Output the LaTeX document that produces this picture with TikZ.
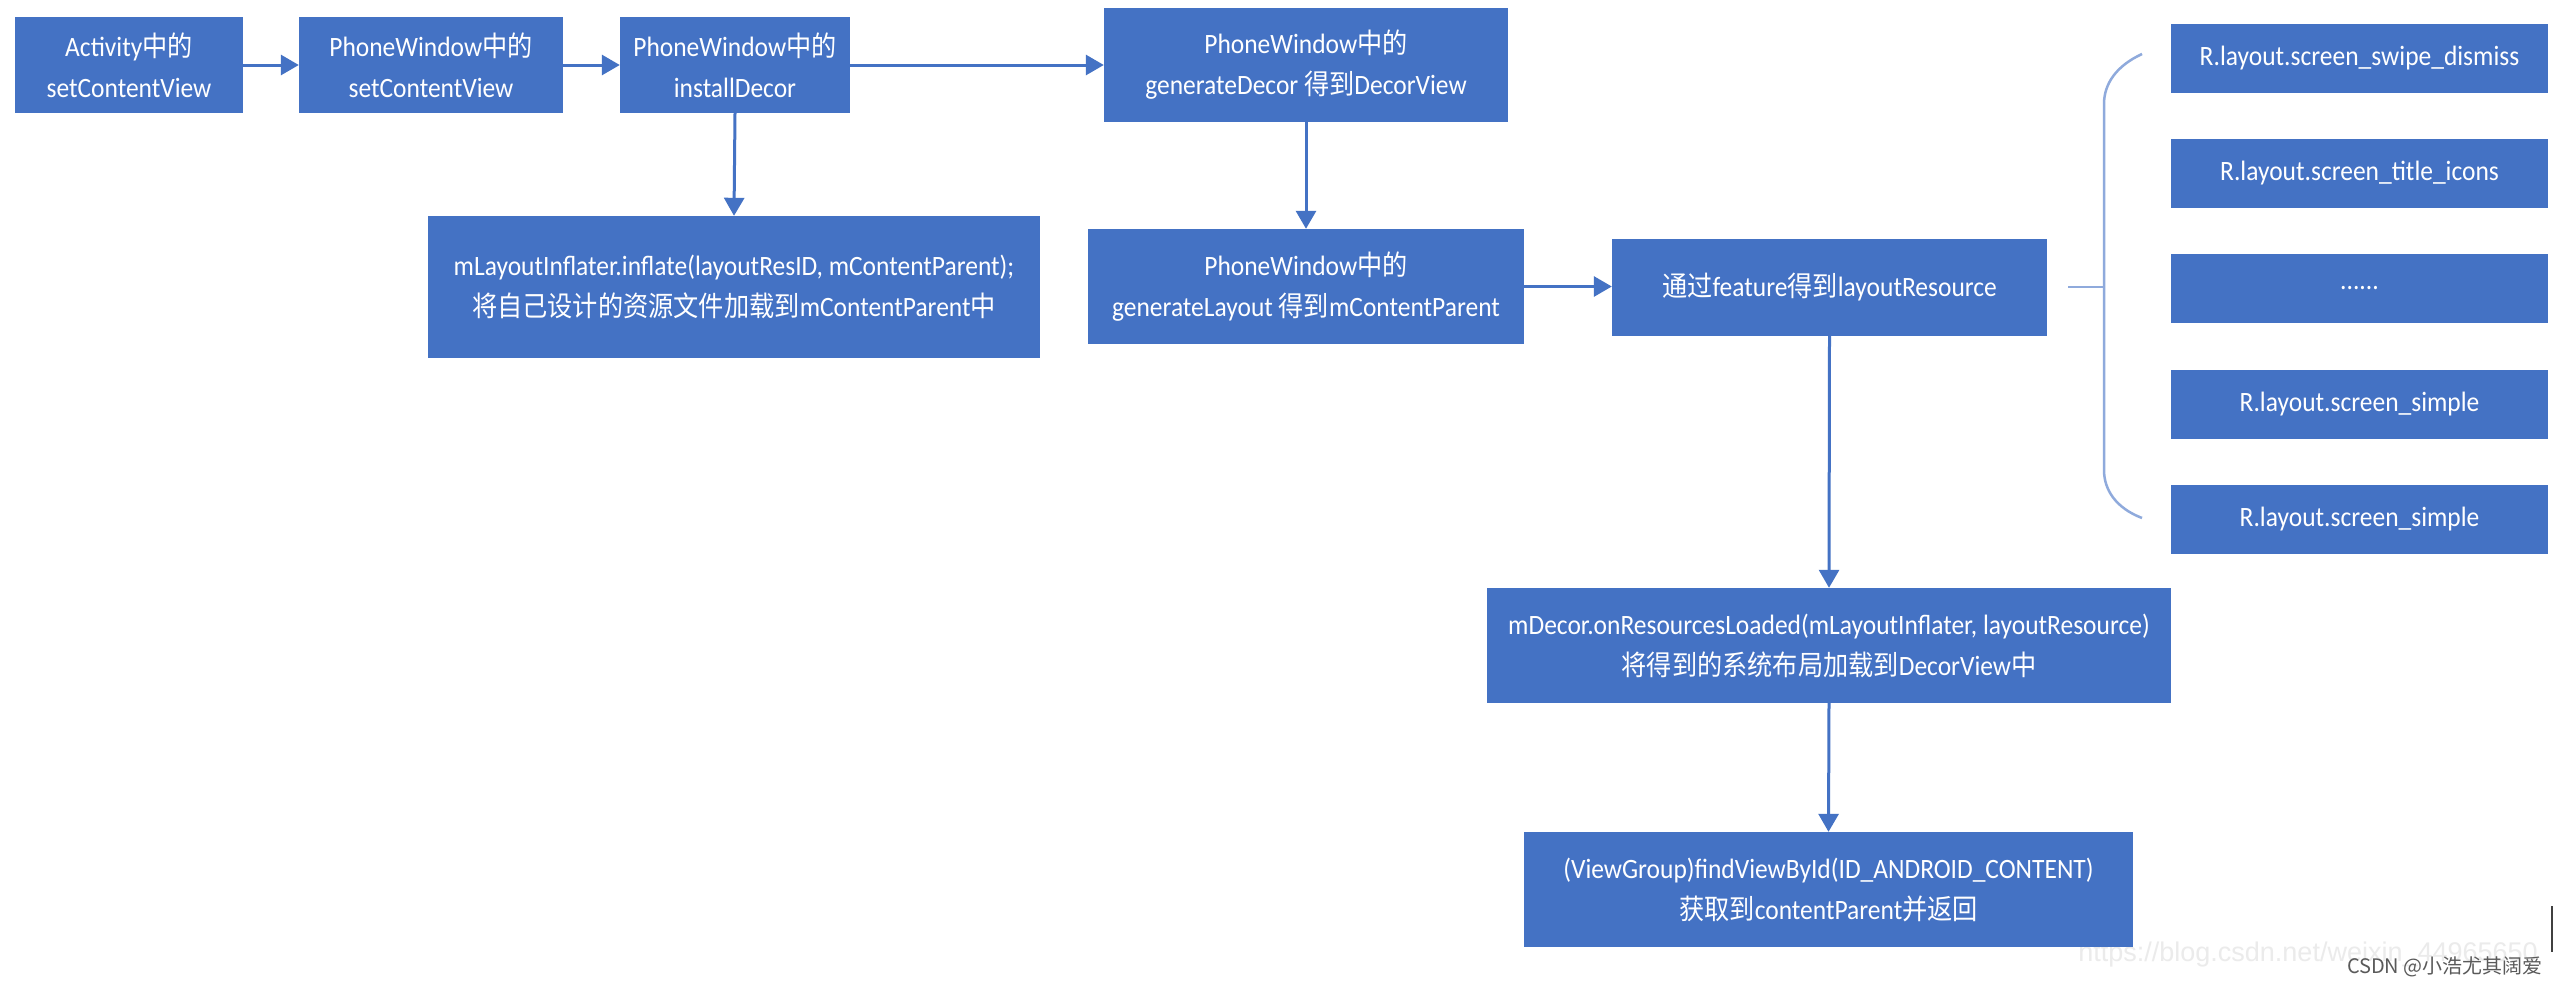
\documentclass[tikz,border=0pt]{standalone}
\usepackage{fontspec}
\setmainfont[FakeStretch=0.91]{Carlito}
\newfontfamily\cjkfont[FakeStretch=0.9]{Noto Sans CJK SC}
\newfontfamily\wmcjk{Noto Sans CJK SC}
\newfontfamily\wmlat{Liberation Sans}
\newcommand\zh[1]{{\cjkfont #1}}
\usetikzlibrary{arrows.meta}
\definecolor{boxblue}{HTML}{4472C4}
\definecolor{bracecol}{HTML}{8FAADC}
\definecolor{wmlight}{HTML}{EBEBEB}
\definecolor{wmdark}{HTML}{5A5A5A}
\tikzset{
  box/.style={fill=boxblue, draw=none, text=white, align=center, inner sep=0pt,
    font=\fontsize{28}{41}\selectfont},
  flow/.style={draw=boxblue, line width=3pt, -{Triangle[length=18pt,width=20pt]}},
  bracel/.style={draw=bracecol, line width=2.5pt}
}
\begin{document}
\begin{tikzpicture}[x=1pt,y=-1pt]
\useasboundingbox[fill=white] (0,0) rectangle (2560,986);

% watermark (behind)
\node[text=wmlight, font=\wmlat\fontsize{27}{30}\selectfont, inner sep=0pt] (wm) at (2308,955) {https://blog.csdn.net/weixin\_44965650};

% top row
\node[box, minimum width=228pt, minimum height=96pt] (b1) at (129,65) {Activity\zh{中的}\\setContentView};
\node[box, minimum width=264pt, minimum height=96pt] (b2) at (431,65) {PhoneWindow\zh{中的}\\setContentView};
\node[box, minimum width=230pt, minimum height=96pt] (b3) at (735,65) {PhoneWindow\zh{中的}\\installDecor};
\node[box, minimum width=404pt, minimum height=114pt] (b4) at (1306,65) {PhoneWindow\zh{中的}\\generateDecor \zh{得到}DecorView};

% second row
\node[box, minimum width=612pt, minimum height=142pt] (inf) at (734,287) {mLayoutInflater.inflate(layoutResID, mContentParent);\\\zh{将自己设计的资源文件加载到}mContentParent\zh{中}};
\node[box, minimum width=436pt, minimum height=115pt] (b6) at (1306,286.5) {PhoneWindow\zh{中的}\\generateLayout \zh{得到}mContentParent};
\node[box, minimum width=435pt, minimum height=97pt] (b7) at (1829.5,287.5) {\zh{通过}feature\zh{得到}layoutResource};

% resource list
\node[box, minimum width=377pt, minimum height=69pt] (r1) at (2359.5,58.5) {R.layout.screen\_swipe\_dismiss};
\node[box, minimum width=377pt, minimum height=69pt] (r2) at (2359.5,173.5) {R.layout.screen\_title\_icons};
\node[box, minimum width=377pt, minimum height=69pt] (r3) at (2359.5,288.5) {......};
\node[box, minimum width=377pt, minimum height=69pt] (r4) at (2359.5,404.5) {R.layout.screen\_simple};
\node[box, minimum width=377pt, minimum height=69pt] (r5) at (2359.5,519) {R.layout.screen\_simple};

% lower boxes
\node[box, minimum width=684pt, minimum height=115pt] (b8) at (1829,645.5) {mDecor.onResourcesLoaded(mLayoutInflater, layoutResource)\\\zh{将得到的系统布局加载到}DecorView\zh{中}};
\node[box, minimum width=609pt, minimum height=115pt] (b9) at (1828.5,889.5) {(ViewGroup)findViewById(ID\_ANDROID\_CONTENT)\\\zh{获取到}contentParent\zh{并返回}};

% connectors
\draw[flow] (b1.east) -- (b2.west);
\draw[flow] (b2.east) -- (b3.west);
\draw[flow] (b3.east) -- (b4.west);
\draw[flow] (b3.south) -- (inf.north);
\draw[flow] (b4.south) -- (b6.north);
\draw[flow] (b6.east) -- (b6.east -| b7.west);
\draw[flow] (b7.south) -- (b8.north);
\draw[flow] (b8.south) -- (b9.north);

% brace
\coordinate (bs) at (2068,287);
\coordinate (bj) at (2104,287);
\coordinate (btop) at (2142,54);
\coordinate (bbot) at (2142,518);
\draw[bracel] (bs) -- (bj);
\draw[bracel] (btop) .. controls (2116,66) and (2104,84) .. (2104,104)
  -- (2104,470) .. controls (2104,490) and (2116,508) .. (bbot);

% watermark text
\node[text=wmdark, font=\wmcjk\fontsize{20}{24}\selectfont, inner sep=0pt, anchor=east] (csdn) at (2543,967) {CSDN @小浩尤其阔爱};

% edge artifact
\coordinate (m1) at (2552,906);
\coordinate (m2) at (2552,952);
\draw[black!75, line width=2pt] (m1) -- (m2);
\end{tikzpicture}
\end{document}
